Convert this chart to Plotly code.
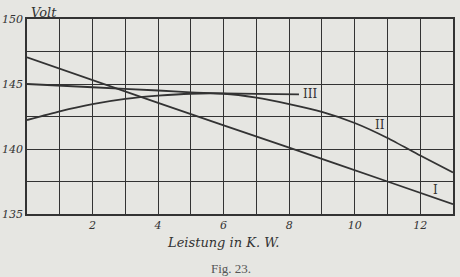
import plotly.graph_objects as go

# Data (Leistung in K.W. vs Volt)
x_I = [0, 4, 8, 11, 13]
y_I = [147.05, 143.55, 140.1, 137.5, 135.75]

x_II = [0, 1, 2, 3, 4, 5, 6, 7, 8, 9, 10, 11, 12, 13]
y_II = [142.23, 142.9, 143.45, 143.85, 144.1, 144.25, 144.25, 143.95, 143.45, 142.85, 142.0, 140.85, 139.5, 138.2]

x_III = [0, 2, 4, 5, 6, 7, 8.3]
y_III = [145.0, 144.75, 144.5, 144.35, 144.28, 144.24, 144.2]

x_grid = list(range(0, 14))
x_ticktext = ["", "", "2", "", "4", "", "6", "", "8", "", "10", "", "12", ""]
y_grid = [135, 137.5, 140, 142.5, 145, 147.5, 150]
y_ticktext = ["135", "", "140", "", "145", "", "150"]

curve_labels = [("III", 8.35, 144.23, "left"), ("II", 10.78, 141.85, "center"), ("I", 12.46, 136.85, "center")]

ink = "#333333"
paper = "#e6e6e2"

fig = go.Figure()
for xs, ys in [(x_I, y_I), (x_II, y_II), (x_III, y_III)]:
    fig.add_trace(go.Scatter(x=xs, y=ys, mode="lines", line=dict(color=ink, width=1.8, shape="spline", smoothing=0.6),
                             showlegend=False, hoverinfo="skip"))

for txt, xx, yy, anc in curve_labels:
    fig.add_annotation(x=xx, y=yy, text=txt, showarrow=False, xanchor=anc, yanchor="middle",
                       font=dict(family="DejaVu Serif", size=12, color=ink))

fig.add_annotation(xref="paper", yref="paper", x=0.005, y=1.0, text="Volt", showarrow=False,
                   xanchor="left", yanchor="bottom", yshift=-3,
                   font=dict(family="DejaVu Serif", size=13, color=ink, style="italic"))
fig.add_annotation(xref="paper", yref="paper", x=0.46, y=0, text="Leistung in K. W.", showarrow=False,
                   xanchor="center", yanchor="top", yshift=-19,
                   font=dict(family="DejaVu Serif", size=13, color=ink, style="italic"))
fig.add_annotation(xref="paper", yref="paper", x=0.48, y=0, text="Fig. 23.", showarrow=False,
                   xanchor="center", yanchor="top", yshift=-45,
                   font=dict(family="Liberation Serif", size=13, color="#555555"))

fig.update_xaxes(range=[0, 13], tickvals=x_grid, ticktext=x_ticktext, showgrid=True, gridcolor=ink, gridwidth=1,
                 showline=True, linecolor=ink, linewidth=1.5, mirror=True, zeroline=False, ticks="",
                 automargin=False,
                 tickfont=dict(family="DejaVu Serif", size=11, color=ink, style="italic"))
fig.update_yaxes(range=[135, 150], tickvals=y_grid, ticktext=y_ticktext, showgrid=True, gridcolor=ink, gridwidth=1,
                 showline=True, linecolor=ink, linewidth=1.5, mirror=True, zeroline=False, ticks="",
                 automargin=False, ticklabelstandoff=0,
                 tickfont=dict(family="DejaVu Serif", size=11, color=ink, style="italic"))

fig.update_layout(width=460, height=277, margin=dict(l=27, r=7, t=19, b=63),
                  paper_bgcolor=paper, plot_bgcolor=paper, showlegend=False)

fig.write_html("out.html")
